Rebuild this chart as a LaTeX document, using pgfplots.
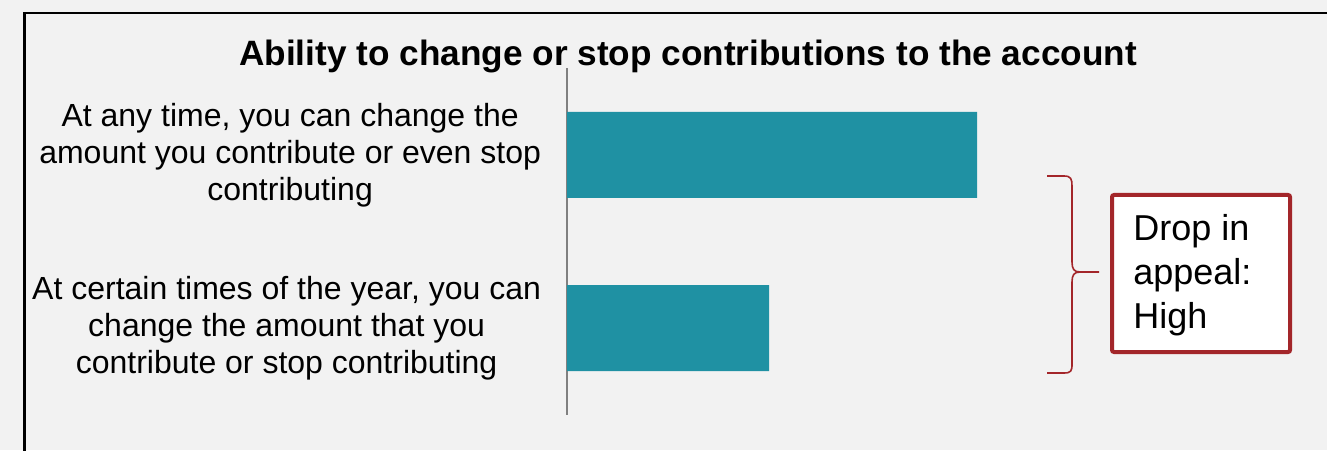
\documentclass[border=0pt]{standalone}
\usepackage{pgfplots}
\pgfplotsset{compat=1.18}
\usepackage{fontspec}
\setmainfont{Liberation Sans}
\definecolor{bgcol}{HTML}{F2F2F2}
\definecolor{barcol}{HTML}{1F91A3}
\definecolor{redcol}{HTML}{A3262A}
\begin{document}
\begin{tikzpicture}
\fill[bgcol] (0pt,0pt) rectangle (663.5pt,225pt);
\useasboundingbox (0pt,0pt) rectangle (663.5pt,225pt);
\clip (0pt,0pt) rectangle (663.5pt,225pt);
% frame (cropped at right and bottom)
\draw[black, line width=1.25pt] (12.25pt,-5pt) -- (12.25pt,218.5pt) -- (670pt,218.5pt);
% title
\node[font=\fontsize{17.6}{20}\selectfont\bfseries, anchor=base] at (344pt,192pt) {Ability to change or stop contributions to the account};
\begin{axis}[
  at={(283.5pt,61pt)}, anchor=origin,
  x=5pt, y=86.5pt,
  xmin=0, xmax=50, ymin=-0.5, ymax=1.5,
  axis x line=none,
  axis y line*=left,
  y axis line style={draw=gray, line width=0.75pt},
  ytick={0,1},
  yticklabels={{At certain times of the year, you can\\change the amount that you\\contribute or stop contributing},
               {At any time, you can change the\\amount you contribute or even stop\\contributing}},
  yticklabel style={align=center, font=\fontsize{16}{18.5}\selectfont, xshift=-9.5pt},
  major tick length=0pt,
  clip=false,
]
\addplot[xbar, bar width=43pt, fill=barcol, draw=none] coordinates {(20.2,0) (41,1)};
\end{axis}
% brace
\draw[redcol, line width=0.8pt] (523.5pt,137pt) -- (532pt,137pt) .. controls (535.5pt,137pt) and (536pt,135.5pt) .. (536pt,132pt) -- (536pt,94pt) .. controls (536pt,90.5pt) and (537pt,89pt) .. (540pt,89pt) -- (549.5pt,89pt);
\draw[redcol, line width=0.8pt] (540pt,89pt) .. controls (537pt,89pt) and (536pt,87.5pt) .. (536pt,84pt) -- (536pt,43pt) .. controls (536pt,39.5pt) and (535.5pt,38.5pt) .. (532pt,38.5pt) -- (523.5pt,38.5pt);
% box
\draw[redcol, line width=2pt, fill=white, rounded corners=1pt] (556pt,49pt) rectangle (645pt,127.5pt);
\node[anchor=west, align=left, inner sep=0pt, font=\fontsize{18}{22}\selectfont] at (566.5pt,87.5pt) {Drop in\\appeal:\\High};
\end{tikzpicture}
\end{document}
